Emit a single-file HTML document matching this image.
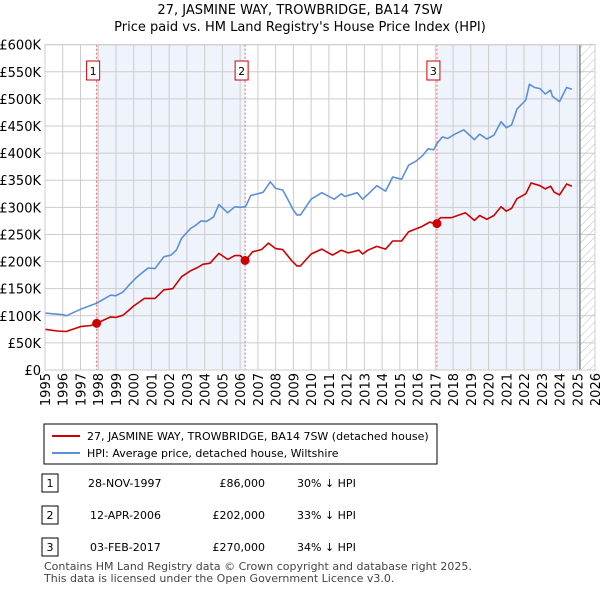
<!DOCTYPE html>
<html><head><meta charset="utf-8"><style>
body{margin:0;background:#fff;font-family:"Liberation Sans","DejaVu Sans",sans-serif;}
svg text{font-family:"DejaVu Sans","Liberation Sans",sans-serif;}
</style></head><body>
<svg width="600" height="590" viewBox="0 0 600 590" xmlns="http://www.w3.org/2000/svg">
<defs><pattern id="hatch" width="6" height="6" patternUnits="userSpaceOnUse" patternTransform="rotate(45)"><line x1="0" y1="0" x2="0" y2="6" stroke="#bbb" stroke-width="1"/></pattern></defs>
<text x="300" y="14" text-anchor="middle" font-size="13">27, JASMINE WAY, TROWBRIDGE, BA14 7SW</text>
<text x="300" y="31" text-anchor="middle" font-size="13">Price paid vs. HM Land Registry's House Price Index (HPI)</text>
<g id="plot"></g>
<g>
<rect x="44" y="424" width="393" height="40" fill="#fff" stroke="#000" stroke-width="1"/>
<line x1="52" y1="436" x2="80" y2="436" stroke="#cc0000" stroke-width="2"/>
<text x="87" y="440" font-size="11">27, JASMINE WAY, TROWBRIDGE, BA14 7SW (detached house)</text>
<line x1="52" y1="453" x2="80" y2="453" stroke="#5b8fd6" stroke-width="2"/>
<text x="87" y="457" font-size="11">HPI: Average price, detached house, Wiltshire</text>
</g>
<g font-size="11">
<rect x="42" y="474" width="16" height="18" fill="#fff" stroke="#000"/><text x="50" y="487" text-anchor="middle">1</text>
<text x="88" y="487">28-NOV-1997</text><text x="265" y="487" text-anchor="end">£86,000</text><text x="297" y="487">30% ↓ HPI</text>
<rect x="42" y="506" width="16" height="18" fill="#fff" stroke="#000"/><text x="50" y="519" text-anchor="middle">2</text>
<text x="90" y="519">12-APR-2006</text><text x="265" y="519" text-anchor="end">£202,000</text><text x="297" y="519">33% ↓ HPI</text>
<rect x="42" y="538" width="16" height="18" fill="#fff" stroke="#000"/><text x="50" y="551" text-anchor="middle">3</text>
<text x="90" y="551">03-FEB-2017</text><text x="265" y="551" text-anchor="end">£270,000</text><text x="297" y="551">34% ↓ HPI</text>
</g>
<text x="44" y="570" font-size="11" fill="#444">Contains HM Land Registry data © Crown copyright and database right 2025.</text>
<text x="44" y="582" font-size="11" fill="#444">This data is licensed under the Open Government Licence v3.0.</text>
</svg>
<script>
const hpiYears=[1995.0,1996.0,1996.2,1997.0,1997.9,1998.7,1999.0,1999.4,1999.8,2000.2,2000.8,2001.2,2001.7,2002.1,2002.4,2002.7,2003.2,2003.5,2003.8,2004.1,2004.5,2004.8,2005.3,2005.7,2006.0,2006.3,2006.6,2007.0,2007.3,2007.7,2008.0,2008.4,2008.6,2009.0,2009.2,2009.4,2010.0,2010.6,2011.3,2011.7,2011.9,2012.6,2012.9,2013.2,2013.7,2014.2,2014.6,2015.1,2015.5,2015.9,2016.3,2016.6,2016.9,2017.1,2017.4,2017.7,2018.1,2018.6,2019.2,2019.5,2019.9,2020.3,2020.7,2021.0,2021.3,2021.6,2022.1,2022.3,2022.6,2022.9,2023.2,2023.5,2023.6,2024.0,2024.4,2024.7];
const hpiValues=[105,102,100,112,123,138,137,144,159,172,188,187,209,212,221,243,261,267,275,274,282,305,290,301,300,301,322,325,328,347,335,332,320,295,286,286,315,327,315,325,320,327,315,324,340,330,356,352,378,385,396,408,406,418,430,427,435,443,425,435,426,433,458,447,452,481,498,527,521,519,509,516,505,495,521,518];
const propYears=[1995.0,1995.7,1996.2,1997.0,1997.6,1997.9,1998.7,1999.0,1999.4,2000.0,2000.6,2001.2,2001.7,2002.2,2002.7,2003.2,2003.6,2003.9,2004.3,2004.8,2005.3,2005.7,2006.0,2006.3,2006.7,2007.2,2007.6,2008.0,2008.4,2008.9,2009.2,2009.4,2010.0,2010.6,2011.2,2011.7,2012.1,2012.7,2012.9,2013.2,2013.7,2014.2,2014.6,2015.1,2015.5,2016.2,2016.7,2016.9,2017.3,2017.9,2018.7,2019.2,2019.5,2019.9,2020.3,2020.7,2021.0,2021.3,2021.6,2022.1,2022.4,2022.9,2023.2,2023.5,2023.7,2024.0,2024.4,2024.7];
const propValues=[75,72,71,80,82,86,98,97,101,118,132,132,148,150,172,183,189,195,197,215,204,211,211,202,218,222,234,224,222,202,192,192,214,223,212,221,216,221,214,221,228,223,238,238,255,264,273,270,281,281,290,276,285,278,285,301,293,298,316,325,345,340,334,339,328,323,343,339];
const saleYears=[1997.91,2006.28,2017.09];
const saleValues=[86,202,270];
const saleLabels=["1","2","3"];
const yTicks=[0,50,100,150,200,250,300,350,400,450,500,550,600];
const yTickLabels=["£0","£50K","£100K","£150K","£200K","£250K","£300K","£350K","£400K","£450K","£500K","£550K","£600K"];
const xTicks=[1995,1996,1997,1998,1999,2000,2001,2002,2003,2004,2005,2006,2007,2008,2009,2010,2011,2012,2013,2014,2015,2016,2017,2018,2019,2020,2021,2022,2023,2024,2025,2026];
const dataEnd=2025.15;

const X0=45,X1=595,Y0=370,Y1=44.7;
const xs=y=>X0+(y-1995)/31*(X1-X0);
const ys=v=>Y0-v/600*(Y0-Y1);
const NS="http://www.w3.org/2000/svg";
const g=document.getElementById('plot');
function mk(t,a,p){const e=document.createElementNS(NS,t);for(const k in a)e.setAttribute(k,a[k]);(p||g).appendChild(e);return e;}
// shading
let r=mk('rect',{x:xs(saleYears[0]),y:Y1,width:xs(saleYears[1])-xs(saleYears[0]),height:Y0-Y1,fill:'#eef3fc'});


r=mk('rect',{x:xs(saleYears[2]),y:Y1,width:xs(dataEnd)-xs(saleYears[2]),height:Y0-Y1,fill:'#eef3fc'});


r=mk('rect',{x:xs(dataEnd),y:Y1,width:X1-xs(dataEnd),height:Y0-Y1,fill:'url(#hatch)'});


// grid
yTicks.forEach((v,i)=>{
 const l=mk('line',{x1:X0,x2:X1,y1:ys(v),y2:ys(v),stroke:'#cccccc','stroke-width':1});
 
 
 const t=mk('text',{x:X0-4,y:ys(v)+5,'text-anchor':'end','font-size':13});
 
 
 t.textContent=yTickLabels[i];
});
xTicks.forEach(yr=>{
 const l=mk('line',{x1:xs(yr),x2:xs(yr),y1:Y1,y2:Y0,stroke:'#cccccc','stroke-width':1});
 
 
 const t=mk('text',{x:0,y:0,'text-anchor':'end','font-size':13,transform:`translate(${xs(yr)+5},${Y0+3}) rotate(-90)`});
 
 
 t.textContent=yr;
});
r=mk('line',{x1:xs(dataEnd),x2:xs(dataEnd),y1:Y1,y2:Y0,stroke:'#888','stroke-width':1.5});


// sale vlines
saleYears.forEach((yr,i)=>{
 const l=mk('line',{x1:xs(yr),x2:xs(yr),y1:Y1,y2:Y0,stroke:'#ee6666','stroke-width':1,'stroke-dasharray':'2,2'});
 
 
 const b=mk('rect',{x:xs(yr)-10,y:61,width:13,height:19,fill:'#fff',stroke:'#cc0000','stroke-width':1});
 
 
 const t=mk('text',{x:xs(yr)-3.5,y:75,'text-anchor':'middle','font-size':11});
 
 
 t.textContent=saleLabels[i];
});
function line(xa,va,color,name){
 const p=mk('polyline',{points:xa.map((x,i)=>xs(x).toFixed(1)+','+ys(va[i]).toFixed(1)).join(' '),fill:'none',stroke:color,'stroke-width':1.6,'stroke-linejoin':'round'});
 
 
}
line(hpiYears,hpiValues,'#5b8fd6','hpi-line');
line(propYears,propValues,'#cc0000','property-line');
saleYears.forEach((yr,i)=>{
 const c=mk('circle',{cx:xs(yr),cy:ys(saleValues[i]),r:4.5,fill:'#cc0000'});
 
 
});
r=mk('rect',{x:X0,y:Y1,width:X1-X0,height:Y0-Y1,fill:'none',stroke:'#cccccc'});


</script>
</body></html>
